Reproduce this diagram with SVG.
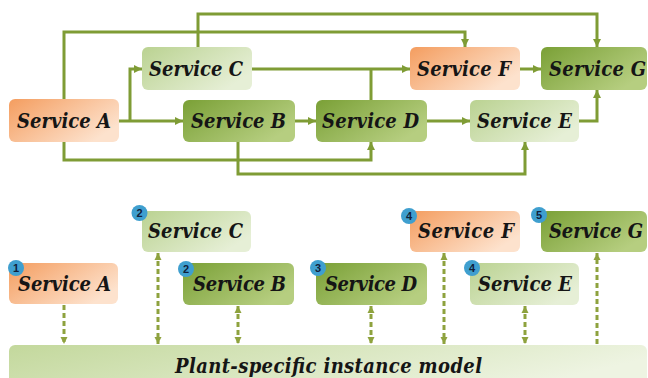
<svg xmlns="http://www.w3.org/2000/svg" width="648" height="378" viewBox="0 0 648 378">
  <style>
    .lbl { font-family: "DejaVu Serif Condensed", "DejaVu Serif", "Liberation Serif", serif; font-weight: bold; font-style: italic; font-size: 20px; fill: #151515; text-anchor: middle; }
    .badge circle { fill: #3f9fcf; }
    .badge text { font-family: "Liberation Sans", Arial, sans-serif; font-weight: bold; font-size: 11px; fill: #10203a; text-anchor: middle; }
    .flow { fill: none; stroke: #7f9c35; stroke-width: 3; }
    .link { fill: none; stroke: #8ea23e; stroke-width: 3; stroke-dasharray: 5 3; }
  </style>
  <defs>
    <linearGradient id="gOrange" x1="0" y1="0" x2="1" y2="0.6">
      <stop offset="0" stop-color="#f49d5f"/>
      <stop offset="1" stop-color="#fde2cd"/>
    </linearGradient>
    <linearGradient id="gLight" x1="0" y1="0" x2="1" y2="0.6">
      <stop offset="0" stop-color="#bad291"/>
      <stop offset="1" stop-color="#e6efd6"/>
    </linearGradient>
    <linearGradient id="gDark" x1="0" y1="0" x2="1" y2="0.6">
      <stop offset="0" stop-color="#7aa036"/>
      <stop offset="1" stop-color="#b6ce80"/>
    </linearGradient>
    <linearGradient id="gBar" x1="0" y1="0" x2="1" y2="0.3">
      <stop offset="0" stop-color="#c3d89c"/>
      <stop offset="1" stop-color="#eef4e2"/>
    </linearGradient>
    <marker id="arr" viewBox="0 0 10 10" refX="10" refY="5" markerWidth="8" markerHeight="9" markerUnits="userSpaceOnUse" orient="auto">
      <path d="M0,0 L10,5 L0,10 Z" fill="#7f9c35"/>
    </marker>
    <marker id="arrD" viewBox="0 0 10 10" refX="10" refY="5" markerWidth="7" markerHeight="8" markerUnits="userSpaceOnUse" orient="auto-start-reverse">
      <path d="M0,0 L10,5 L0,10 Z" fill="#8ea23e"/>
    </marker>
  </defs>

  <!-- dependency graph: connectors -->
  <g id="flows">
    <path class="flow" d="M198,47 V14 H597 V47" marker-end="url(#arr)"/>
    <path class="flow" d="M64,100 V32 H465 V47" marker-end="url(#arr)"/>
    <path class="flow" d="M119,121 H183" marker-end="url(#arr)"/>
    <path class="flow" d="M130,121 V69 H142" marker-end="url(#arr)"/>
    <path class="flow" d="M252,69 H410" marker-end="url(#arr)"/>
    <path class="flow" d="M371,100 V69"/>
    <path class="flow" d="M295,121 H316" marker-end="url(#arr)"/>
    <path class="flow" d="M427,121 H470" marker-end="url(#arr)"/>
    <path class="flow" d="M520,69 H541" marker-end="url(#arr)"/>
    <path class="flow" d="M579,121 H597 V90" marker-end="url(#arr)"/>
    <path class="flow" d="M64,142 V160 H371 V142" marker-end="url(#arr)"/>
    <path class="flow" d="M238,142 V174 H525 V142" marker-end="url(#arr)"/>
  </g>

  <!-- dependency graph: services -->
  <g id="top-a"><rect x="9" y="99" width="110" height="43" rx="6" fill="url(#gOrange)"/><text class="lbl" x="64" y="128" textLength="94" lengthAdjust="spacing">Service A</text></g>
  <g id="top-c"><rect x="142" y="47" width="110" height="43" rx="6" fill="url(#gLight)"/><text class="lbl" x="196" y="76" textLength="94" lengthAdjust="spacing">Service C</text></g>
  <g id="top-b"><rect x="183" y="100" width="112" height="42" rx="6" fill="url(#gDark)"/><text class="lbl" x="238.5" y="128" textLength="95" lengthAdjust="spacing">Service B</text></g>
  <g id="top-d"><rect x="316" y="100" width="111" height="42" rx="6" fill="url(#gDark)"/><text class="lbl" x="370.5" y="128" textLength="97" lengthAdjust="spacing">Service D</text></g>
  <g id="top-e"><rect x="470" y="100" width="109" height="42" rx="6" fill="url(#gLight)"/><text class="lbl" x="524.5" y="128" textLength="95" lengthAdjust="spacing">Service E</text></g>
  <g id="top-f"><rect x="410" y="47" width="110" height="43" rx="6" fill="url(#gOrange)"/><text class="lbl" x="464" y="76" textLength="94" lengthAdjust="spacing">Service F</text></g>
  <g id="top-g"><rect x="541" y="47" width="106" height="43" rx="6" fill="url(#gDark)"/><text class="lbl" x="597.5" y="76" textLength="97" lengthAdjust="spacing">Service G</text></g>

  <!-- instance model links -->
  <g id="links">
    <path class="link" d="M64,305 V344" marker-end="url(#arrD)"/>
    <path class="link" d="M158,253 V344" marker-start="url(#arrD)" marker-end="url(#arrD)"/>
    <path class="link" d="M238,306 V344" marker-start="url(#arrD)" marker-end="url(#arrD)"/>
    <path class="link" d="M371,306 V344" marker-start="url(#arrD)" marker-end="url(#arrD)"/>
    <path class="link" d="M444,253 V344" marker-start="url(#arrD)" marker-end="url(#arrD)"/>
    <path class="link" d="M525,306 V344" marker-start="url(#arrD)" marker-end="url(#arrD)"/>
    <path class="link" d="M597,344 V253" marker-end="url(#arrD)"/>
  </g>

  <!-- instance model bar -->
  <g id="model">
    <rect x="9" y="345" width="638" height="45" rx="6" fill="url(#gBar)"/>
    <text class="lbl" x="328.5" y="373" font-size="21" textLength="307" lengthAdjust="spacing">Plant-specific instance model</text>
  </g>

  <!-- deployment stages -->
  <g id="bot-a"><rect x="9" y="263" width="109" height="41" rx="6" fill="url(#gOrange)"/><text class="lbl" x="64.5" y="291" textLength="93" lengthAdjust="spacing">Service A</text>
    <g class="badge"><circle cx="16" cy="268" r="8"/><text x="16" y="272">1</text></g></g>
  <g id="bot-c"><rect x="142" y="211" width="109" height="41" rx="6" fill="url(#gLight)"/><text class="lbl" x="195.5" y="238" textLength="95" lengthAdjust="spacing">Service C</text>
    <g class="badge"><circle cx="139.5" cy="213" r="8"/><text x="139.5" y="217">2</text></g></g>
  <g id="bot-b"><rect x="183" y="263" width="111" height="42" rx="6" fill="url(#gDark)"/><text class="lbl" x="239.5" y="291" textLength="93" lengthAdjust="spacing">Service B</text>
    <g class="badge"><circle cx="186" cy="269" r="8"/><text x="186" y="273">2</text></g></g>
  <g id="bot-d"><rect x="316" y="263" width="111" height="42" rx="6" fill="url(#gDark)"/><text class="lbl" x="371" y="291" textLength="92" lengthAdjust="spacing">Service D</text>
    <g class="badge"><circle cx="318" cy="268" r="8"/><text x="318" y="272">3</text></g></g>
  <g id="bot-f"><rect x="410" y="211" width="110" height="41" rx="6" fill="url(#gOrange)"/><text class="lbl" x="466" y="238" textLength="96" lengthAdjust="spacing">Service F</text>
    <g class="badge"><circle cx="409" cy="216" r="8"/><text x="409" y="220">4</text></g></g>
  <g id="bot-g"><rect x="541" y="211" width="106" height="41" rx="6" fill="url(#gDark)"/><text class="lbl" x="596" y="238" textLength="94" lengthAdjust="spacing">Service G</text>
    <g class="badge"><circle cx="539" cy="215" r="8"/><text x="539" y="219">5</text></g></g>
  <g id="bot-e"><rect x="470" y="263" width="109" height="42" rx="6" fill="url(#gLight)"/><text class="lbl" x="525" y="291" textLength="94" lengthAdjust="spacing">Service E</text>
    <g class="badge"><circle cx="472" cy="268" r="8"/><text x="472" y="272">4</text></g></g>
</svg>
